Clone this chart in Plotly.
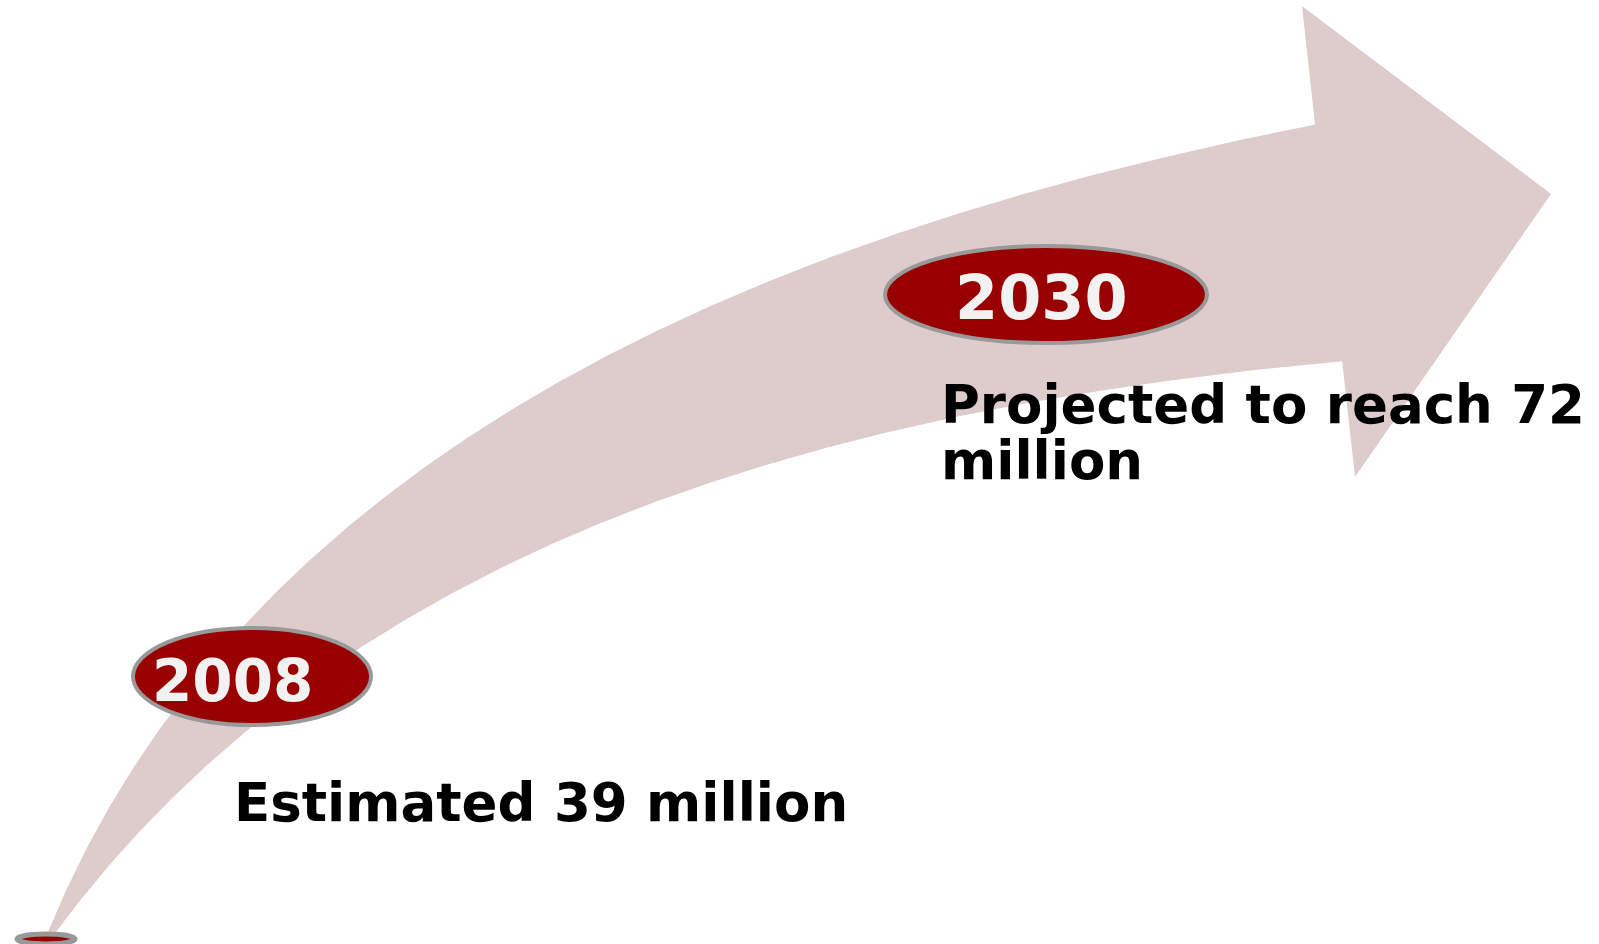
import numpy as np
import plotly.graph_objects as go

W, H = 1599, 944

# ---- data ----
years = ["2008", "2030"]
population_million = [39, 72]
caption_lines = [["Estimated 39 million"], ["Projected to reach 72", "million"]]

# ---- decorative geometry (pixel space) ----
shaft_upper_x = [48, 51, 77, 128, 168, 250, 286, 337, 388, 439, 520, 568, 620, 714, 790, 890, 1020, 1122, 1224, 1318]
shaft_upper_y = [932, 921, 870, 783, 716, 623, 578, 536, 494, 452, 407, 380, 352, 301, 272, 235, 196, 169, 144, 124]
shaft_lower_x = [56, 77, 128, 184, 255, 362, 439, 510, 612, 700, 746, 800, 867, 939, 1020, 1122, 1224, 1345]
shaft_lower_y = [932, 903, 849, 789, 725, 650, 596, 560, 515, 488, 473, 456, 440, 421, 403, 387, 373, 361]
head_x = [1315, 1302, 1551, 1355, 1342]
head_y = [124, 6, 194, 477, 360]

badge_boxes = [(133, 371, 628, 725), (885, 1207, 246, 343)]
start_dot = (17, 75, 934, 944)
year_text_pos = [(232, 681, 58), (1041, 297, 62)]
caption_pos = [[(232, 802)], [(939, 404), (939, 460)]]

ARROW = "#DECBCC"
RED = "#990000"
GREY = "#999999"


def bez(ctrl, t):
    t = t[:, None]
    return ((1 - t) ** 3 * ctrl[0] + 3 * (1 - t) ** 2 * t * ctrl[1]
            + 3 * (1 - t) * t ** 2 * ctrl[2] + t ** 3 * ctrl[3])


def smooth_edge(xs, ys, n=240):
    """Fit a cubic Bezier (fixed ends) through the traced outline points."""
    P = np.c_[xs, ys].astype(float)
    d = np.r_[0, np.cumsum(np.hypot(*np.diff(P, axis=0).T))]
    t = d / d[-1]
    tt = np.linspace(0, 1, 4001)
    ctrl = None
    for _ in range(8):
        b0 = (1 - t) ** 3
        b1 = 3 * (1 - t) ** 2 * t
        b2 = 3 * (1 - t) * t ** 2
        b3 = t ** 3
        R = P - np.outer(b0, P[0]) - np.outer(b3, P[-1])
        C = np.linalg.lstsq(np.c_[b1, b2], R, rcond=None)[0]
        ctrl = np.vstack([P[0], C[0], C[1], P[-1]])
        curve = bez(ctrl, tt)
        dist = ((P[:, None, :] - curve[None, :, :]) ** 2).sum(-1)
        t = tt[dist.argmin(1)]
        t[0], t[-1] = 0.0, 1.0
    return bez(ctrl, np.linspace(0, 1, n))


up = smooth_edge(shaft_upper_x, shaft_upper_y)
lo = smooth_edge(shaft_lower_x, shaft_lower_y)[::-1]
outline = np.vstack([up, lo])

fig = go.Figure()
fig.add_trace(go.Scatter(
    x=outline[:, 0], y=outline[:, 1], mode="lines", line=dict(width=0),
    fill="toself", fillcolor=ARROW, hoverinfo="skip", showlegend=False))
fig.add_trace(go.Scatter(
    x=head_x, y=head_y, mode="lines", line=dict(width=0),
    fill="toself", fillcolor=ARROW, hoverinfo="skip", showlegend=False))

shapes = []
x0, x1, y0, y1 = start_dot
shapes.append(dict(type="circle", xref="x", yref="y", x0=x0, x1=x1, y0=y0, y1=y1,
                   fillcolor=RED, line=dict(color=GREY, width=5), layer="above"))
for (x0, x1, y0, y1) in badge_boxes:
    shapes.append(dict(type="circle", xref="x", yref="y", x0=x0, x1=x1, y0=y0, y1=y1,
                       fillcolor=RED, line=dict(color=GREY, width=4), layer="above"))

annotations = []
for yr, (tx, ty, fs) in zip(years, year_text_pos):
    annotations.append(dict(x=tx, y=ty, xref="x", yref="y", text=yr, showarrow=False,
                            xanchor="center", yanchor="middle",
                            font=dict(family="DejaVu Sans", size=fs, color="#F2F2F2", weight="bold")))
for lines, poss in zip(caption_lines, caption_pos):
    for txt, (tx, ty) in zip(lines, poss):
        annotations.append(dict(x=tx, y=ty, xref="x", yref="y", text=txt, showarrow=False,
                                xanchor="left", yanchor="middle",
                                font=dict(family="DejaVu Sans", size=53, color="#000000", weight="bold")))

fig.update_layout(
    width=W, height=H, margin=dict(l=0, r=0, t=0, b=0),
    paper_bgcolor="white", plot_bgcolor="white",
    xaxis=dict(range=[0, W], visible=False, fixedrange=True),
    yaxis=dict(range=[H, 0], visible=False, fixedrange=True),
    shapes=shapes, annotations=annotations, showlegend=False)

fig.write_html("out.html", config={"displayModeBar": False})
